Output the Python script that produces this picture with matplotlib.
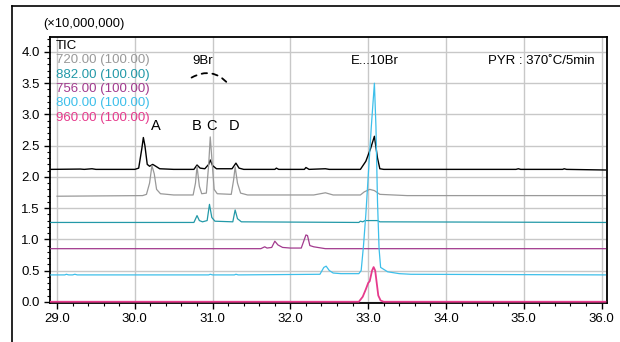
import matplotlib.pyplot as plt
from matplotlib.lines import Line2D
from matplotlib.ticker import MultipleLocator, FormatStrFormatter

plt.rcParams['font.family'] = ['Liberation Sans', 'DejaVu Sans']

# trace points (retention time, intensity x1e7)
tic_t = [28.92, 29.3, 29.35, 29.45, 29.5, 30.0, 30.05, 30.09, 30.11, 30.13, 30.16, 30.19, 30.23,
         30.27, 30.32, 30.5, 30.76, 30.8, 30.84, 30.9, 30.95, 30.97, 31.0, 31.05, 31.25, 31.3,
         31.34, 31.4, 31.8, 31.82, 31.85, 32.18, 32.2, 32.24, 32.45, 32.5, 32.9, 32.97, 33.03,
         33.08, 33.12, 33.15, 33.2, 34.0, 34.9, 34.93, 34.96, 35.5, 35.52, 35.55, 36.05]
tic_i = [2.12, 2.125, 2.12, 2.13, 2.12, 2.12, 2.14, 2.45, 2.63, 2.5, 2.2, 2.17, 2.2,
         2.17, 2.13, 2.12, 2.12, 2.19, 2.14, 2.13, 2.2, 2.27, 2.18, 2.13, 2.13, 2.22,
         2.14, 2.12, 2.12, 2.14, 2.12, 2.12, 2.15, 2.12, 2.13, 2.12, 2.12, 2.25, 2.45,
         2.65, 2.3, 2.13, 2.12, 2.12, 2.12, 2.13, 2.12, 2.12, 2.13, 2.12, 2.11]

m720_t = [29.0, 30.1, 30.15, 30.19, 30.22, 30.25, 30.28, 30.33, 30.5, 30.75, 30.78, 30.8, 30.83,
          30.86, 30.92, 30.95, 30.97, 30.99, 31.02, 31.06, 31.24, 31.27, 31.29, 31.32, 31.36,
          31.45, 32.3, 32.45, 32.55, 32.9, 32.95, 33.02, 33.08, 33.15, 33.5, 36.05]
m720_i = [1.69, 1.70, 1.72, 1.9, 2.18, 2.05, 1.8, 1.73, 1.71, 1.71, 1.9, 2.17, 1.85,
          1.73, 1.74, 2.2, 2.64, 2.3, 1.8, 1.73, 1.72, 1.95, 2.16, 1.9, 1.74,
          1.71, 1.71, 1.745, 1.71, 1.71, 1.76, 1.80, 1.78, 1.72, 1.70, 1.70]

m882_t = [28.92, 30.76, 30.8, 30.83, 30.87, 30.93, 30.96, 30.99, 31.03, 31.26, 31.29, 31.32,
          31.37, 32.88, 32.9, 32.93, 32.96, 33.12, 33.15, 36.05]
m882_i = [1.27, 1.27, 1.38, 1.3, 1.28, 1.3, 1.56, 1.35, 1.29, 1.28, 1.47, 1.33,
          1.28, 1.27, 1.29, 1.28, 1.30, 1.30, 1.28, 1.27]

m756_t = [28.92, 31.62, 31.67, 31.7, 31.76, 31.8, 31.84, 31.9, 32.0, 32.14, 32.18, 32.2, 32.22,
          32.25, 32.3, 32.35, 32.4, 32.45, 36.05]
m756_i = [0.85, 0.85, 0.88, 0.86, 0.87, 0.97, 0.91, 0.87, 0.86, 0.86, 1.0, 1.07, 1.06,
          0.9, 0.88, 0.87, 0.86, 0.85, 0.85]

m800_t = [28.92, 29.1, 29.12, 29.15, 29.2, 29.23, 29.26, 30.95, 30.97, 31.0, 31.28, 31.3, 31.33,
          32.38, 32.43, 32.46, 32.5, 32.55, 32.65, 32.88, 32.91, 32.94, 32.97, 33.0, 33.04,
          33.08, 33.1, 33.12, 33.14, 33.16, 33.25, 33.4, 33.55, 36.05]
m800_i = [0.43, 0.43, 0.44, 0.43, 0.43, 0.44, 0.43, 0.43, 0.44, 0.43, 0.43, 0.44, 0.43,
          0.44, 0.55, 0.57, 0.5, 0.46, 0.45, 0.45, 0.5, 0.9, 1.4, 2.0, 2.8,
          3.5, 2.8, 1.6, 0.85, 0.55, 0.48, 0.45, 0.44, 0.43]

m960_t = [28.92, 32.88, 32.93, 32.97, 33.0, 33.02, 33.05, 33.07, 33.09, 33.11, 33.13, 33.16,
          33.2, 36.05]
m960_i = [0.0, 0.0, 0.08, 0.2, 0.3, 0.33, 0.5, 0.555, 0.5, 0.3, 0.1, 0.02, 0.0, 0.0]

legend_labels = ['TIC', '720.00 (100.00)', '882.00 (100.00)', '756.00 (100.00)',
                 '800.00 (100.00)', '960.00 (100.00)']
colors = ['black', '#999999', '#2399a8', '#a23a8e', '#3dbfea', '#e63a8c']
widths = [1.0, 0.9, 0.9, 0.9, 0.9, 1.3]

peak_labels = ['A', 'B', 'C', 'D']
peak_pos = [30.27, 30.79, 30.99, 31.28]

fig = plt.figure(figsize=(6.2, 3.42), dpi=100)
ax = fig.add_axes([50 / 620, 39 / 342, 557 / 620, 266 / 342])

traces = [(tic_t, tic_i), (m720_t, m720_i), (m882_t, m882_i),
          (m756_t, m756_i), (m800_t, m800_i), (m960_t, m960_i)]
for (t, i), c, w in zip(traces, colors, widths):
    ax.plot(t, i, color=c, lw=w, zorder=3)

ax.set_xlim(28.91, 36.07)
ax.set_ylim(-0.02, 4.24)
ax.xaxis.set_major_locator(MultipleLocator(1.0))
ax.xaxis.set_minor_locator(MultipleLocator(0.2))
ax.yaxis.set_major_locator(MultipleLocator(0.5))
ax.yaxis.set_minor_locator(MultipleLocator(0.1))
ax.xaxis.set_major_formatter(FormatStrFormatter('%.1f'))
ax.yaxis.set_major_formatter(FormatStrFormatter('%.1f'))
ax.tick_params(which='major', length=4, width=1, labelsize=9.5, direction='out')
ax.tick_params(which='minor', length=2.5, width=0.8, direction='out')
ax.grid(True, which='major', color='#c8c8c8', lw=1.0, zorder=0)
for s in ax.spines.values():
    s.set_linewidth(1.3)

# legend as coloured text
for k, (lab, c) in enumerate(zip(legend_labels, colors)):
    ax.text(0.011, 0.966 - k * 0.0538, lab, color=c, fontsize=9.5,
            transform=ax.transAxes, va='center', ha='left')

for lab, x in zip(peak_labels, peak_pos):
    ax.text(x, 2.82, lab, fontsize=10.5, ha='center', va='center')

ax.text(30.87, 3.85, '9Br', fontsize=9.5, ha='center', va='center')
ax.annotate('', xy=(31.2, 3.49), xytext=(30.73, 3.59),
            arrowprops=dict(arrowstyle='-', linestyle=(0, (3, 3)), lw=1.3,
                            connectionstyle='arc3,rad=-0.4', shrinkA=0, shrinkB=0))
ax.text(33.08, 3.85, 'E...10Br', fontsize=9.5, ha='center', va='center')
ax.text(35.22, 3.85, 'PYR : 370˚C/5min', fontsize=9.5, ha='center', va='center')

fig.text(43 / 620, 1 - 24 / 342, '(×10,000,000)', fontsize=9.3, ha='left', va='center')

# outer frame of the report panel
fig.add_artist(Line2D([12 / 620, 1.0], [1 - 6 / 342, 1 - 6 / 342], color='black', lw=1.2))
fig.add_artist(Line2D([12 / 620, 12 / 620], [0, 1 - 6 / 342], color='black', lw=1.2))

fig.savefig('out.png', dpi=100)
